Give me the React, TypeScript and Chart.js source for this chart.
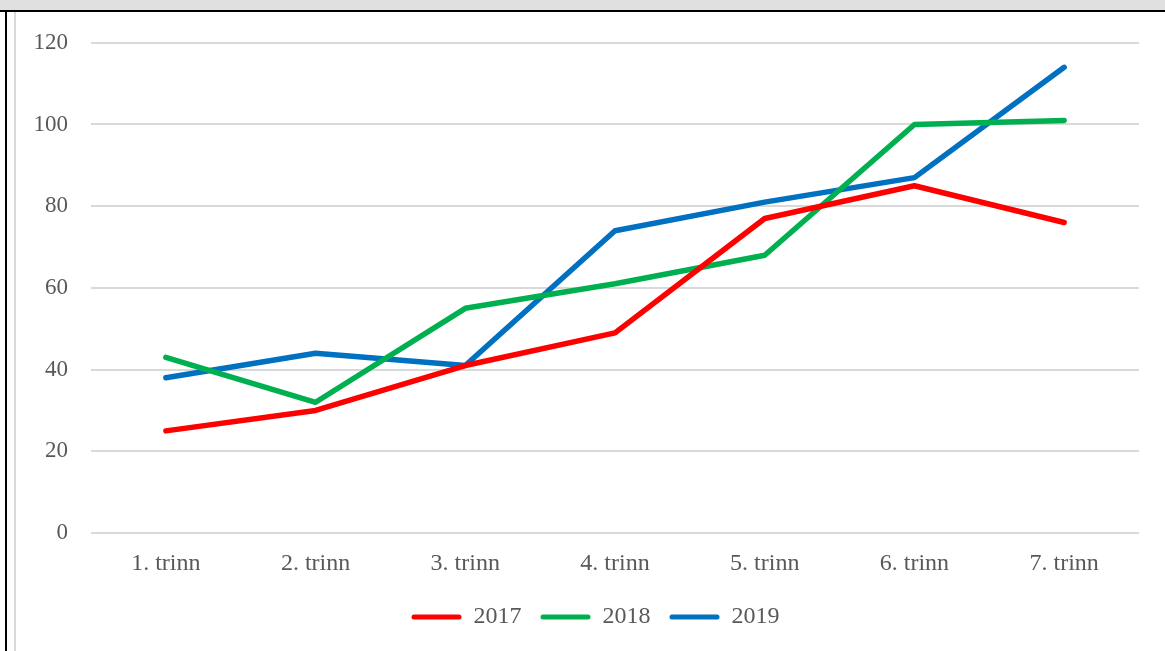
import React, { useEffect, useRef } from "react";
import { Chart, registerables } from "chart.js";

Chart.register(...registerables);

const categories = ["1. trinn", "2. trinn", "3. trinn", "4. trinn", "5. trinn", "6. trinn", "7. trinn"];
const series2017 = [25, 30, 41, 49, 77, 85, 76];
const series2018 = [43, 32, 55, 61, 68, 100, 101];
const series2019 = [38, 44, 41, 74, 81, 87, 114];
const seriesNames = ["2017", "2018", "2019"];
const seriesColors = ["#FF0000", "#00B050", "#0070C0"];

const FONT = "'Liberation Serif', 'Times New Roman', serif";

const legendShift = {
  id: "legendShift",
  afterLayout(chart: any) {
    const l = chart.legend;
    if (l) {
      l.left += 18;
      l.right += 18;
    }
  },
};

export default function App() {
  const ref = useRef<HTMLCanvasElement>(null);
  useEffect(() => {
    if (!ref.current) return;
    const all = [series2017, series2018, series2019];
    const chart = new Chart(ref.current, {
      type: "line",
      data: {
        labels: categories,
        datasets: all.map((d, i) => ({
          label: seriesNames[i],
          data: d,
          borderColor: seriesColors[i],
          backgroundColor: seriesColors[i],
          borderWidth: 5.5,
          borderCapStyle: "round",
          borderJoinStyle: "round",
          pointRadius: 0,
          tension: 0,
          fill: false,
        })),
      },
      plugins: [legendShift],
      options: {
        animation: false,
        responsive: false,
        maintainAspectRatio: false,
        layout: { padding: { top: 24, right: 26, left: 0, bottom: 12 } },
        plugins: {
          tooltip: { enabled: false },
          legend: {
            position: "bottom",
            labels: {
              boxWidth: 50,
              boxHeight: 5,
              padding: 19,
              color: "#595959",
              font: { family: FONT, size: 24 },
              useBorderRadius: true,
              borderRadius: 2.5,
              generateLabels: (c: any) =>
                Chart.defaults.plugins.legend.labels.generateLabels(c).map((l: any) => ({
                  ...l,
                  lineWidth: 0,
                  strokeStyle: "transparent",
                })),
            },
          },
        },
        scales: {
          x: {
            offset: true,
            grid: { display: false, drawTicks: false },
            border: { display: false },
            ticks: { color: "#595959", font: { family: FONT, size: 24 }, padding: 16 },
            afterFit: (s: any) => {
              s.height = 53;
            },
          },
          y: {
            min: 0,
            max: 120,
            grid: { color: "#d9d9d9", lineWidth: 2, drawTicks: false },
            border: { display: false },
            ticks: { stepSize: 20, color: "#595959", font: { family: FONT, size: 23 }, padding: 23 },
            afterFit: (s: any) => {
              s.width = 75;
            },
          },
        },
      },
    });
    return () => chart.destroy();
  }, []);

  return (
    <div style={{ position: "fixed", left: 0, top: 0, width: 1165, height: 651, background: "#fff", overflow: "hidden" }}>
      <div style={{ position: "absolute", left: 0, top: 0, width: 1165, height: 10, background: "#e0e0e0" }} />
      <div style={{ position: "absolute", left: 0, top: 10, width: 1165, height: 2, background: "#000" }} />
      <div style={{ position: "absolute", left: 5, top: 10, width: 2, height: 641, background: "#000" }} />
      <div style={{ position: "absolute", left: 14, top: 12, width: 2, height: 639, background: "#d9d9d9" }} />
      <canvas ref={ref} width={1149} height={645} style={{ position: "absolute", left: 16, top: 6, width: 1149, height: 645 }} />
    </div>
  );
}
